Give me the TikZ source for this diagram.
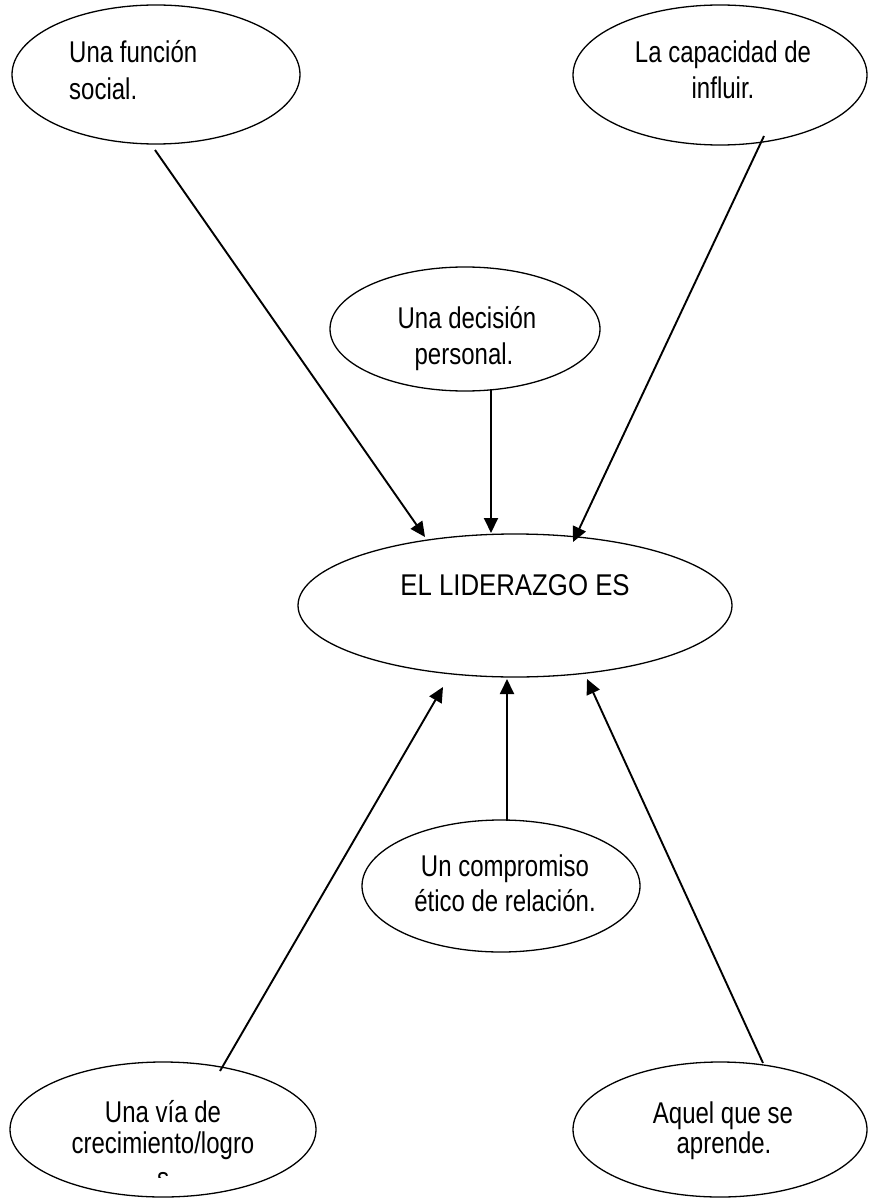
\documentclass[tikz,border=0pt]{standalone}
\usepackage{fontspec}
\setmainfont[FakeStretch=0.8]{Liberation Sans}
\newfontfamily\centerfont[FakeStretch=0.86]{Liberation Sans}
\usetikzlibrary{shapes.geometric,arrows.meta}
\begin{document}
\begin{tikzpicture}[x=1pt,y=-1pt,
  bubble/.style={draw=black, line width=1.3pt, ellipse, inner sep=0pt},
  lbl/.style={inner sep=0pt, anchor=base, font=\fontsize{30}{36}\selectfont},
  arr/.style={line width=1.9pt, -{Triangle[length=15pt,width=14pt]}}
]
\useasboundingbox (0,0) rectangle (868,1198);
\fill[white] (0,0) rectangle (868,1198);

% ellipses
\node[bubble, minimum width=288pt, minimum height=139pt] (e1) at (156,74.5) {};
\node[bubble, minimum width=294pt, minimum height=140pt] (e2) at (720,75) {};
\node[bubble, minimum width=270pt, minimum height=124pt] (e3) at (465,329) {};
\node[bubble, minimum width=434pt, minimum height=143pt] (e4) at (515,605.5) {};
\node[bubble, minimum width=278pt, minimum height=132pt] (e5) at (501,886) {};
\node[bubble, minimum width=306pt, minimum height=135pt] (e6) at (163,1129.5) {};
\node[bubble, minimum width=294pt, minimum height=135pt] (e7) at (720,1129.5) {};

% texts
\node[lbl, anchor=base west] (t1a) at (69,63) {Una función};
\node[lbl, anchor=base west] (t1b) at (69,100) {social.};
\node[lbl] (t2a) at (723,63) {La capacidad de};
\node[lbl] (t2b) at (723,99) {influir.};
\node[lbl] (t3a) at (467,328) {Una decisión};
\node[lbl] (t3b) at (464,364) {personal.};
\node[lbl, font=\centerfont\fontsize{30}{36}\selectfont] (t4) at (515,595) {EL LIDERAZGO ES};
\node[lbl] (t5a) at (505,876) {Un compromiso};
\node[lbl] (t5b) at (505,911) {ético de relación.};
\node[lbl] (t6a) at (163,1122) {Una vía de};
\node[lbl] (t6b) at (163,1153) {crecimiento/logro};
\begin{scope}
  \clip (100,1100) rectangle (250,1177);
  \node[lbl] (t6c) at (163,1188) {s};
\end{scope}
\node[lbl] (t7a) at (723,1123) {Aquel que se};
\node[lbl] (t7b) at (724,1153) {aprende.};

% arrow end points
\coordinate (s1) at (155,150);  \coordinate (h1) at (425,537);
\coordinate (s2) at (491,389);  \coordinate (h2) at (491,533);
\coordinate (s3) at (764,136);  \coordinate (h3) at (573,542);
\coordinate (s5) at (507,821);  \coordinate (h5) at (507,679);
\coordinate (s6) at (220,1071); \coordinate (h6) at (443,687);
\coordinate (s7) at (763,1063); \coordinate (h7) at (587,679);

\draw[arr] (s1) -- (h1);
\draw[arr] (s2) -- (h2);
\draw[arr] (s3) -- (h3);
\draw[arr] (s5) -- (h5);
\draw[arr] (s6) -- (h6);
\draw[arr] (s7) -- (h7);
\end{tikzpicture}
\end{document}
